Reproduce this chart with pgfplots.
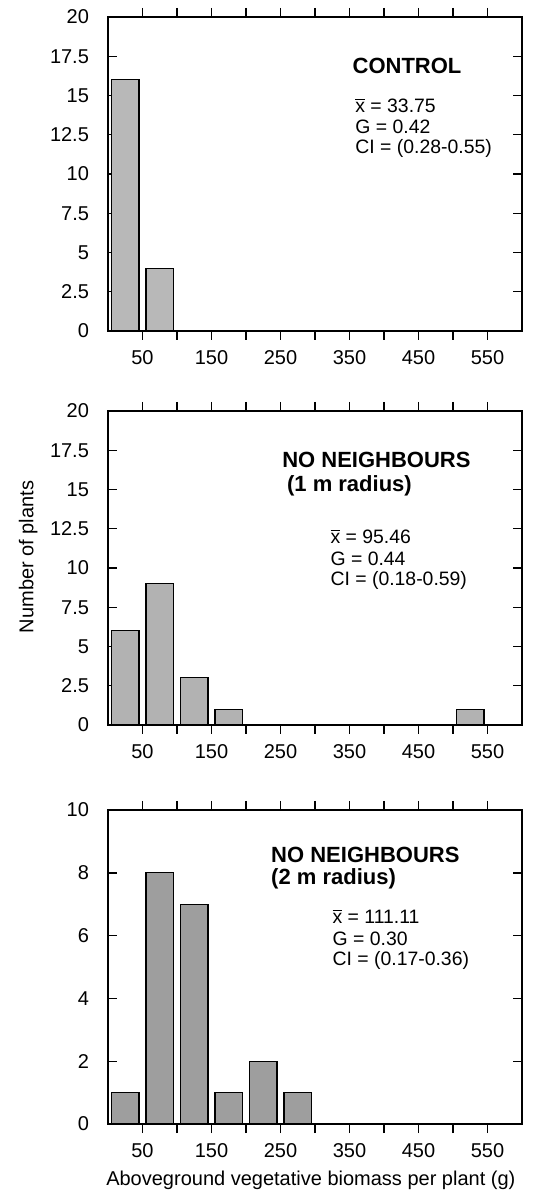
\documentclass[border=0pt]{standalone}
\usepackage{fontspec}
\setmainfont{Liberation Sans}
\usepackage{pgfplots}
\pgfplotsset{compat=1.18}

\pgfplotsset{
  panel/.style={
    scale only axis,
    width=207pt, height=157pt,
    xmin=0, xmax=600, ymin=0,
    axis line style={line width=0.8pt},
    tick style={black, line width=0.7pt},
    major tick length=4.5pt, minor tick length=4.5pt,
    tick align=inside,
    xtick={50,150,...,550},
    minor xtick={100,200,...,500},
    xticklabel style={yshift=-1.5pt},
    yticklabel style={xshift=-6pt},
    ticklabel style={font=\fontsize{10}{12}\selectfont},
    /pgf/number format/assume math mode=true,
    ybar, bar width=40,
    clip=false,
  },
  bars/.style={draw=black, line width=0.6pt, fill=black!#1},
}
\tikzset{
  ttl/.style={anchor=west, inner sep=0pt, font=\fontsize{11}{13}\selectfont\bfseries},
  stat/.style={anchor=west, inner sep=0pt, font=\fontsize{9.7}{11}\selectfont},
}

\begin{document}
\begin{tikzpicture}
\useasboundingbox (0,0) rectangle (267pt,597.5pt);

% control
\begin{axis}[panel, at={(54pt,432pt)}, anchor=south west,
    ymax=20, ytick={0,2.5,...,20}]
  \addplot[bars=28] coordinates {(25,16) (75,4)};
  \node[ttl]  at (axis cs:354,16.9) {CONTROL};
  \node[stat] at (axis cs:358,14.35) {$\overline{\mbox{x}}$ = 33.75};
  \node[stat] at (axis cs:358,13.0) {G = 0.42};
  \node[stat] at (axis cs:358,11.6) {CI = (0.28-0.55)};
\end{axis}

% no neighbours, 1 m
\begin{axis}[panel, at={(54pt,235pt)}, anchor=south west,
    ymax=20, ytick={0,2.5,...,20},
    ylabel={Number of plants},
    every axis y label/.style={at={(axis description cs:-0.193,0.535)},
      rotate=90, anchor=center, font=\fontsize{10}{12}\selectfont}]
  \addplot[bars=30] coordinates {(25,6) (75,9) (125,3) (175,1) (525,1)};
  \node[ttl]  at (axis cs:252,16.9) {NO NEIGHBOURS};
  \node[ttl]  at (axis cs:259,15.25) {(1 m radius)};
  \node[stat] at (axis cs:322,12.0) {$\overline{\mbox{x}}$ = 95.46};
  \node[stat] at (axis cs:322,10.6) {G = 0.44};
  \node[stat] at (axis cs:322,9.2) {CI = (0.18-0.59)};
\end{axis}

% no neighbours, 2 m
\begin{axis}[panel, at={(54pt,35.5pt)}, anchor=south west,
    ymax=10, ytick={0,2,...,10},
    xlabel={Aboveground vegetative biomass per plant (g)},
    every axis x label/.style={at={(axis description cs:0.49,-0.178)},
      anchor=center, font=\fontsize{10}{12}\selectfont}]
  \addplot[bars=38] coordinates {(25,1) (75,8) (125,7) (175,1) (225,2) (275,1)};
  \node[ttl]  at (axis cs:236,8.58) {NO NEIGHBOURS};
  \node[ttl]  at (axis cs:236,7.82) {(2 m radius)};
  \node[stat] at (axis cs:325,6.6) {$\overline{\mbox{x}}$ = 111.11};
  \node[stat] at (axis cs:325,5.9) {G = 0.30};
  \node[stat] at (axis cs:325,5.2) {CI = (0.17-0.36)};
\end{axis}
\end{tikzpicture}
\end{document}
